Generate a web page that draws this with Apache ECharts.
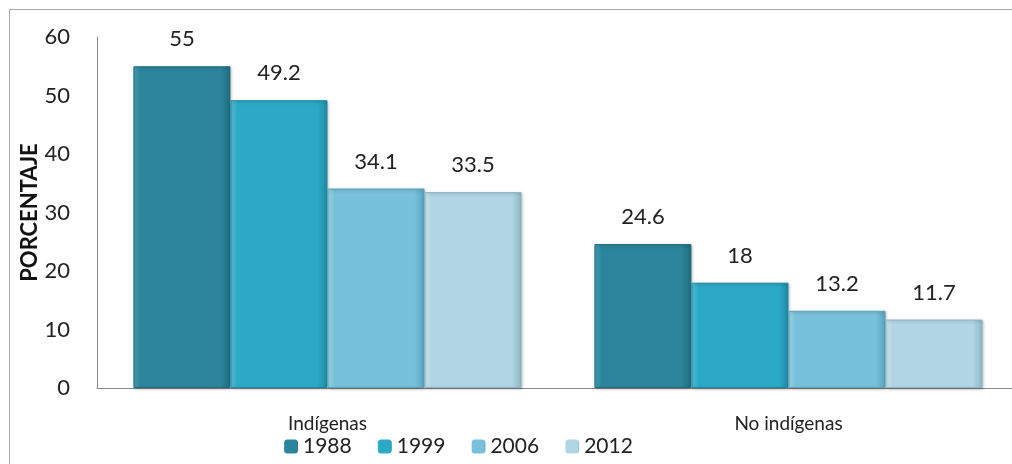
<!DOCTYPE html>
<html><head><meta charset="utf-8">
<script src="https://cdn.jsdelivr.net/npm/echarts@6/dist/echarts.min.js"></script>
<style>html,body{margin:0;padding:0;background:#fff;overflow:hidden;width:1012px;height:464px}#c{width:1030px;height:464px}</style>
</head><body><div id="c"></div>
<script>
const categories = ['Indígenas', 'No indígenas'];
const years = ['1988', '1999', '2006', '2012'];
const v1988 = [55, 24.6];
const v1999 = [49.2, 18];
const v2006 = [34.1, 13.2];
const v2012 = [33.5, 11.7];
const yTicks = [0, 10, 20, 30, 40, 50, 60];

const values = [v1988, v1999, v2006, v2012];
const colors = [
  ['#4aa3b9', '#2c859c', '#1f6c80'],
  ['#5cc6de', '#2ba9c6', '#1f8aa3'],
  ['#a6dcec', '#78c1da', '#5aa3bc'],
  ['#d2ebf3', '#b0d6e3', '#8fb7c6']
];
const FONT = 'Lato, "Liberation Sans", sans-serif';
const chart = echarts.init(document.getElementById('c'));
chart.setOption({
  animation: false,
  textStyle: {fontFamily: FONT},
  graphic: [{type: 'rect', shape: {x: 9.5, y: 9.5, width: 1040, height: 500},
    style: {fill: 'none', stroke: '#a8a8a8', lineWidth: 1}, silent: true}],
  legend: {
    data: years, bottom: 2, left: 279, itemWidth: 14, itemHeight: 14, itemGap: 26,
    itemStyle: {borderWidth: 0, shadowBlur: 0, shadowOffsetX: 0, shadowOffsetY: 0},
    textStyle: {fontSize: 21, color: '#222', fontFamily: FONT}
  },
  grid: {left: 97, top: 37, width: 922, bottom: 76, containLabel: false},
  xAxis: {
    type: 'category', data: categories,
    axisLine: {lineStyle: {color: '#8a8a8a'}}, axisTick: {show: false},
    axisLabel: {fontSize: 19, color: '#222', margin: 26, fontFamily: FONT}
  },
  yAxis: {
    type: 'value', min: yTicks[0], max: yTicks[yTicks.length - 1], interval: 10,
    name: 'PORCENTAJE', nameLocation: 'middle', nameGap: 56, nameRotate: 90,
    nameMoveOverlap: false,
    nameTextStyle: {fontSize: 22, fontWeight: 'bold', color: '#111', fontFamily: FONT},
    axisLine: {show: true, lineStyle: {color: '#8a8a8a'}}, axisTick: {show: false},
    splitLine: {show: false},
    axisLabel: {fontSize: 22, color: '#222', margin: 27, fontFamily: FONT}
  },
  series: years.map((y, i) => ({
    name: y, type: 'bar', data: values[i], barGap: '0%', barCategoryGap: '15.8%',
    itemStyle: {
      color: new echarts.graphic.LinearGradient(0, 0, 1, 0, [
        {offset: 0, color: colors[i][0]}, {offset: 0.07, color: colors[i][1]},
        {offset: 0.9, color: colors[i][1]}, {offset: 1, color: colors[i][2]}
      ]),
      borderColor: colors[i][2], borderWidth: 1,
      shadowColor: 'rgba(0,0,0,0.25)', shadowBlur: 3, shadowOffsetX: 1, shadowOffsetY: 1
    },
    label: {show: true, position: 'top', distance: 16, fontSize: 22, color: '#222', fontFamily: FONT},
    legendIcon: 'rect'
  }))
});
</script></body></html>
